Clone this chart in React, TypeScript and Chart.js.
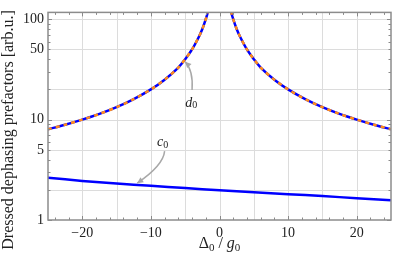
import React, { useEffect, useRef } from "react";
import { Chart, registerables } from "chart.js";

Chart.register(...registerables);
Chart.defaults.font.family = "Liberation Serif, serif";

// d0 (two branches, gap at resonance)
const dX = [-25, -22.5, -20, -17.5, -15, -12.5, -10, -8, -6, -5, -4, -3, -2.5, -2, -1.6, -1.4, 0, 1.4, 1.6, 2, 2.5, 3, 4, 5, 6, 8, 10, 12.5, 15, 17.5, 20, 22.5, 25];
const dY = [8, 8.9, 10, 11.4, 13.3, 16, 20, 25, 33, 40, 50, 67, 80, 100, 125, 145, null, 145, 125, 100, 80, 67, 50, 40, 33, 25, 20, 16, 13.3, 11.4, 10, 8.9, 8];
// c0
const cX = [-25, -20, -15, -10, -5, 0, 5, 10, 15, 20, 25];
const cY = [2.64, 2.45, 2.31, 2.19, 2.08, 1.98, 1.89, 1.81, 1.73, 1.65, 1.57];

const xTickLabels = [-20, -10, 0, 10, 20];
const yTickLabels = [1, 5, 10, 50, 100];
const xGrid = [-20, -15, -10, -5, 0, 5, 10, 15, 20];
const yGrid = [2, 5, 10, 20, 50, 100];

const yTitle = "Dressed dephasing prefactors [arb.u.]";
const xTitleParts = [
  { t: "\u0394", style: "", sub: false },
  { t: "0", style: "", sub: true },
  { t: " / ", style: "", sub: false },
  { t: "g", style: "italic ", sub: false },
  { t: "0", style: "", sub: true },
];

// annotations in data units: label [x,y], arrow path [start, control, tip]
const dLabel = { text: "d", sub: "0", x: -4.1, y: 14.7 };
const dArrow = [[-4.0, 19.7], [-3.8, 31], [-5.0, 37.8]];
const cLabel = { text: "c", sub: "0", x: -8.3, y: 5.95 };
const cArrow = [[-8.0, 4.86], [-8.2, 3.5], [-12.0, 2.33]];

const FONT = "Liberation Serif, serif";

const decor = {
  id: "decor",
  beforeDatasetsDraw(chart: any) {
    const { ctx, chartArea: a, scales } = chart;
    const xs = scales.x, ys = scales.y;
    ctx.save();
    ctx.strokeStyle = "#dcdcdc";
    ctx.lineWidth = 1;
    for (const v of xGrid) {
      const px = Math.round(xs.getPixelForValue(v)) + 0.5;
      ctx.beginPath(); ctx.moveTo(px, a.top); ctx.lineTo(px, a.bottom); ctx.stroke();
    }
    for (const v of yGrid) {
      const py = Math.round(ys.getPixelForValue(v)) + 0.5;
      ctx.beginPath(); ctx.moveTo(a.left, py); ctx.lineTo(a.right, py); ctx.stroke();
    }
    ctx.restore();
  },
  afterDatasetsDraw(chart: any) {
    const { ctx, chartArea: a, scales } = chart;
    const xs = scales.x, ys = scales.y;
    ctx.save();
    // ticks
    ctx.strokeStyle = "#8a8a8a";
    ctx.lineWidth = 1;
    for (let v = -24; v <= 24; v += 2) {
      const major = v % 10 === 0;
      const len = major ? 4 : 2.5;
      const px = Math.round(xs.getPixelForValue(v)) + 0.5;
      ctx.beginPath();
      ctx.moveTo(px, a.bottom); ctx.lineTo(px, a.bottom - len);
      ctx.moveTo(px, a.top); ctx.lineTo(px, a.top + len);
      ctx.stroke();
    }
    const yt: number[] = [];
    for (const d of [1, 10, 100]) for (let k = 1; k <= 9; k++) if (d * k <= 117) yt.push(d * k);
    for (const v of yt) {
      const major = v === 1 || v === 10 || v === 100;
      const len = major ? 4 : 2.5;
      const py = Math.round(ys.getPixelForValue(v)) + 0.5;
      ctx.beginPath();
      ctx.moveTo(a.left, py); ctx.lineTo(a.left + len, py);
      ctx.moveTo(a.right, py); ctx.lineTo(a.right - len, py);
      ctx.stroke();
    }
    // frame
    ctx.strokeStyle = "#8c8c8c";
    ctx.lineWidth = 1.5;
    ctx.strokeRect(a.left, a.top, a.right - a.left, a.bottom - a.top);

    // annotations
    const drawArrow = (pts: number[][]) => {
      const p = pts.map(([x, y]) => [xs.getPixelForValue(x), ys.getPixelForValue(y)]);
      ctx.strokeStyle = "#a8a8a8";
      ctx.fillStyle = "#a8a8a8";
      ctx.lineWidth = 1.5;
      ctx.beginPath();
      ctx.moveTo(p[0][0], p[0][1]);
      ctx.quadraticCurveTo(p[1][0], p[1][1], p[2][0], p[2][1]);
      ctx.stroke();
      const ang = Math.atan2(p[2][1] - p[1][1], p[2][0] - p[1][0]);
      const L = 6, W = 3;
      ctx.beginPath();
      ctx.moveTo(p[2][0], p[2][1]);
      ctx.lineTo(p[2][0] - L * Math.cos(ang) + W * Math.sin(ang), p[2][1] - L * Math.sin(ang) - W * Math.cos(ang));
      ctx.lineTo(p[2][0] - L * Math.cos(ang) - W * Math.sin(ang), p[2][1] - L * Math.sin(ang) + W * Math.cos(ang));
      ctx.closePath();
      ctx.fill();
    };
    drawArrow(dArrow);
    drawArrow(cArrow);
    const drawLabel = (l: any) => {
      const px = xs.getPixelForValue(l.x), py = ys.getPixelForValue(l.y);
      ctx.fillStyle = "#222";
      ctx.textBaseline = "middle";
      ctx.textAlign = "left";
      ctx.font = `italic 14px ${FONT}`;
      const w1 = ctx.measureText(l.text).width;
      ctx.font = `10px ${FONT}`;
      const w2 = ctx.measureText(l.sub).width;
      const x0 = px - (w1 + w2) / 2;
      ctx.font = `italic 14px ${FONT}`;
      ctx.fillText(l.text, x0, py);
      ctx.font = `10px ${FONT}`;
      ctx.fillText(l.sub, x0 + w1, py + 3);
    };
    drawLabel(dLabel);
    drawLabel(cLabel);

    // axis titles
    ctx.fillStyle = "#222";
    ctx.textBaseline = "middle";
    ctx.textAlign = "center";
    ctx.font = `16px ${FONT}`;
    ctx.save();
    ctx.translate(9, 130);
    ctx.rotate(-Math.PI / 2);
    ctx.fillText(yTitle, 0, 0);
    ctx.restore();

    ctx.textAlign = "left";
    ctx.textBaseline = "alphabetic";
    const fontFor = (p: any) => `${p.style}${p.sub ? 11 : 16}px ${FONT}`;
    let total = 0;
    for (const p of xTitleParts) { ctx.font = fontFor(p); total += ctx.measureText(p.t).width; }
    let cx = (a.left + a.right) / 2 - total / 2;
    const base = a.bottom + 28;
    for (const p of xTitleParts) {
      ctx.font = fontFor(p);
      ctx.fillText(p.t, cx, base + (p.sub ? 3 : 0));
      cx += ctx.measureText(p.t).width;
    }
    ctx.restore();
  },
};

const fmt = (v: number) => (v < 0 ? "\u2212" + Math.abs(v) : String(v));

export default function App() {
  const ref = useRef<HTMLCanvasElement>(null);
  useEffect(() => {
    if (!ref.current) return;
    const dPts = dX.map((x, i) => ({ x, y: dY[i] }));
    const cPts = cX.map((x, i) => ({ x, y: cY[i] }));
    const chart = new Chart(ref.current, {
      type: "line",
      data: {
        datasets: [
          { data: dPts as any, borderColor: "#ff8c1a", borderWidth: 2.5, borderDash: [4, 4], pointRadius: 0, tension: 0.3, clip: 0, order: 0, spanGaps: false },
          { data: dPts as any, borderColor: "#0000ff", borderWidth: 2.5, pointRadius: 0, tension: 0.3, clip: 0, order: 1, spanGaps: false },
          { data: cPts as any, borderColor: "#0000ff", borderWidth: 2.5, pointRadius: 0, tension: 0.3, clip: 0, order: 2 },
        ],
      },
      options: {
        animation: false,
        responsive: false,
        maintainAspectRatio: false,
        layout: { padding: { top: 9, right: 4, left: 0, bottom: 0 } },
        plugins: { legend: { display: false }, tooltip: { enabled: false } },
        scales: {
          x: {
            type: "linear",
            min: -25,
            max: 25,
            grid: { display: false, drawTicks: false },
            border: { display: false },
            afterBuildTicks: (s: any) => { s.ticks = xTickLabels.map((v) => ({ value: v })); },
            afterFit: (s: any) => { s.height = 42; },
            ticks: { padding: 5, color: "#222", font: { family: FONT, size: 14 }, callback: (v: any) => fmt(Number(v)), maxRotation: 0, autoSkip: false },
          },
          y: {
            type: "logarithmic",
            min: 1,
            max: 117,
            grid: { display: false, drawTicks: false },
            border: { display: false },
            afterBuildTicks: (s: any) => { s.ticks = yTickLabels.map((v) => ({ value: v })); },
            afterFit: (s: any) => { s.width = 48; },
            ticks: { padding: 4, color: "#222", font: { family: FONT, size: 14 }, callback: (v: any) => String(v), autoSkip: false },
          },
        },
      },
      plugins: [decor],
    });
    return () => chart.destroy();
  }, []);
  return (
    <div style={{ position: "fixed", left: 0, top: 0, width: 395, height: 262, background: "#fff" }}>
      <canvas ref={ref} width={395} height={262} style={{ width: 395, height: 262, display: "block" }} />
    </div>
  );
}
